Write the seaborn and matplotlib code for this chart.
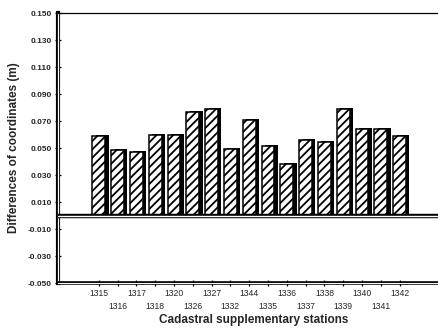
import matplotlib
matplotlib.use("Agg")
import matplotlib.pyplot as plt
import matplotlib.patheffects as pe
import seaborn as sns
import pandas as pd

stations = ["1315", "1316", "1317", "1318", "1320", "1326", "1327", "1332", "1344",
            "1335", "1336", "1337", "1338", "1339", "1340", "1341", "1342"]
differences = [0.0588, 0.0485, 0.047, 0.0595, 0.0595, 0.077, 0.079, 0.049, 0.071,
               0.0515, 0.038, 0.056, 0.0545, 0.079, 0.0645, 0.0645, 0.0588]
y_ticks = [-0.050, -0.030, -0.010, 0.010, 0.030, 0.050, 0.070, 0.090, 0.110, 0.130, 0.150]

df = pd.DataFrame({"station": stations, "diff": differences})

sns.set_style("white")
plt.rcParams["font.family"] = ["Liberation Sans", "DejaVu Sans"]
plt.rcParams["hatch.linewidth"] = 1.3

fig = plt.figure(figsize=(4.38, 3.28), dpi=100)
ax = fig.add_axes([0.132, 0.137, 0.895, 0.823])

sns.barplot(data=df, x="station", y="diff", order=stations, color="white",
            edgecolor="black", linewidth=1.1, width=0.68, hatch="////", ax=ax)
shadow = [pe.SimplePatchShadow(offset=(2.4, 0.7), shadow_rgbFace="black", alpha=1.0),
          pe.Normal()]
for bar in ax.patches:
    bar.set_path_effects(shadow)

# double baseline at zero
ax.axhline(0, color="black", lw=3.2, zorder=5,
           path_effects=[pe.Stroke(linewidth=3.2, foreground="black"),
                         pe.Stroke(linewidth=1.0, foreground="white")])

ax.set_xlim(-2.18, 18.67)
ax.set_ylim(-0.050, 0.150)
ax.set_yticks(y_ticks)
ax.set_yticklabels([f"{v:.3f}" for v in y_ticks], fontsize=6, fontweight="bold")
ax.set_xticks(range(len(stations)))
ax.set_xticklabels([s if i % 2 == 0 else "\n" + s for i, s in enumerate(stations)],
                   fontsize=6.2, linespacing=1.5)
ax.tick_params(axis="both", direction="inout", length=5, width=0.9, color="black",
               pad=2)
ax.tick_params(axis="y", left=True)
ax.tick_params(axis="x", bottom=True)

for side in ["left", "bottom", "top"]:
    ax.spines[side].set_visible(True)
    ax.spines[side].set_color("black")
ax.spines["top"].set_linewidth(0.9)
ax.spines["left"].set_linewidth(1.2)
ax.spines["bottom"].set_linewidth(1.2)
ax.spines["right"].set_visible(False)
ax.spines["left"].set_path_effects([pe.Stroke(linewidth=3.0, foreground="black"),
                                    pe.Stroke(linewidth=0.9, foreground="white")])
ax.spines["bottom"].set_path_effects([pe.Stroke(linewidth=2.6, foreground="black"),
                                      pe.Stroke(linewidth=0.8, foreground="white")])

ax.set_ylabel("Differences of coordinates (m)", fontsize=8.5, fontweight="bold",
              labelpad=5)
ax.set_xlabel("Cadastral supplementary stations", fontsize=8.5, fontweight="bold",
              labelpad=2)

fig.savefig("out.png", dpi=100)
